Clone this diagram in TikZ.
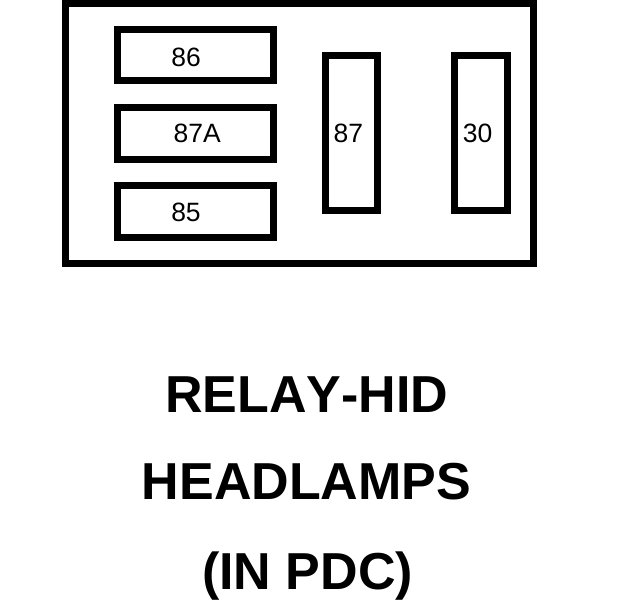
\documentclass[tikz,border=0pt]{standalone}
\usepackage{fontspec}
\setmainfont{Liberation Sans}[Kerning=Off]
\begin{document}
\begin{tikzpicture}[x=1pt,y=-1pt,
  pin/.style={draw=black,line width=7pt,minimum width=#1,inner sep=0pt,outer sep=0pt},
  hpin/.style={pin=156pt,minimum height=52pt},
  vpin/.style={pin=53pt,minimum height=155pt},
  lbl/.style={anchor=base,inner sep=0pt,font=\fontsize{26.5}{30}\selectfont},
  ttl/.style={anchor=base,inner sep=0pt,font=\bfseries\fontsize{52}{60}\selectfont}]
\useasboundingbox (0,0) rectangle (624,600);
\node[draw=black,line width=7pt,minimum width=468pt,minimum height=260pt,inner sep=0pt] (housing) at (299.5,133.5) {};
\node[hpin,minimum height=51pt] (p86) at (195.5,55) {};
\node[hpin] (p87A) at (195.5,133.5) {};
\node[hpin] (p85) at (195.5,211.5) {};
\node[vpin,minimum width=52pt] (p87) at (351.5,133) {};
\node[vpin] (p30) at (481,133) {};
\node[lbl] (t86) at (186.2,66.7) {86};
\node[lbl] (t87A) at (197.2,142.7) {87A};
\node[lbl] (t85) at (186,221.7) {85};
\node[lbl] (t87) at (348.3,142.3) {87};
\node[lbl] (t30) at (477.5,142.3) {30};
\node[ttl] (l1) at (307,412) {RELAY-HID};
\node[ttl] (l2) at (306.5,499) {HEADLAMPS};
\node[ttl] (l3) at (307.5,589.5) {(IN PDC)};
\end{tikzpicture}
\end{document}
